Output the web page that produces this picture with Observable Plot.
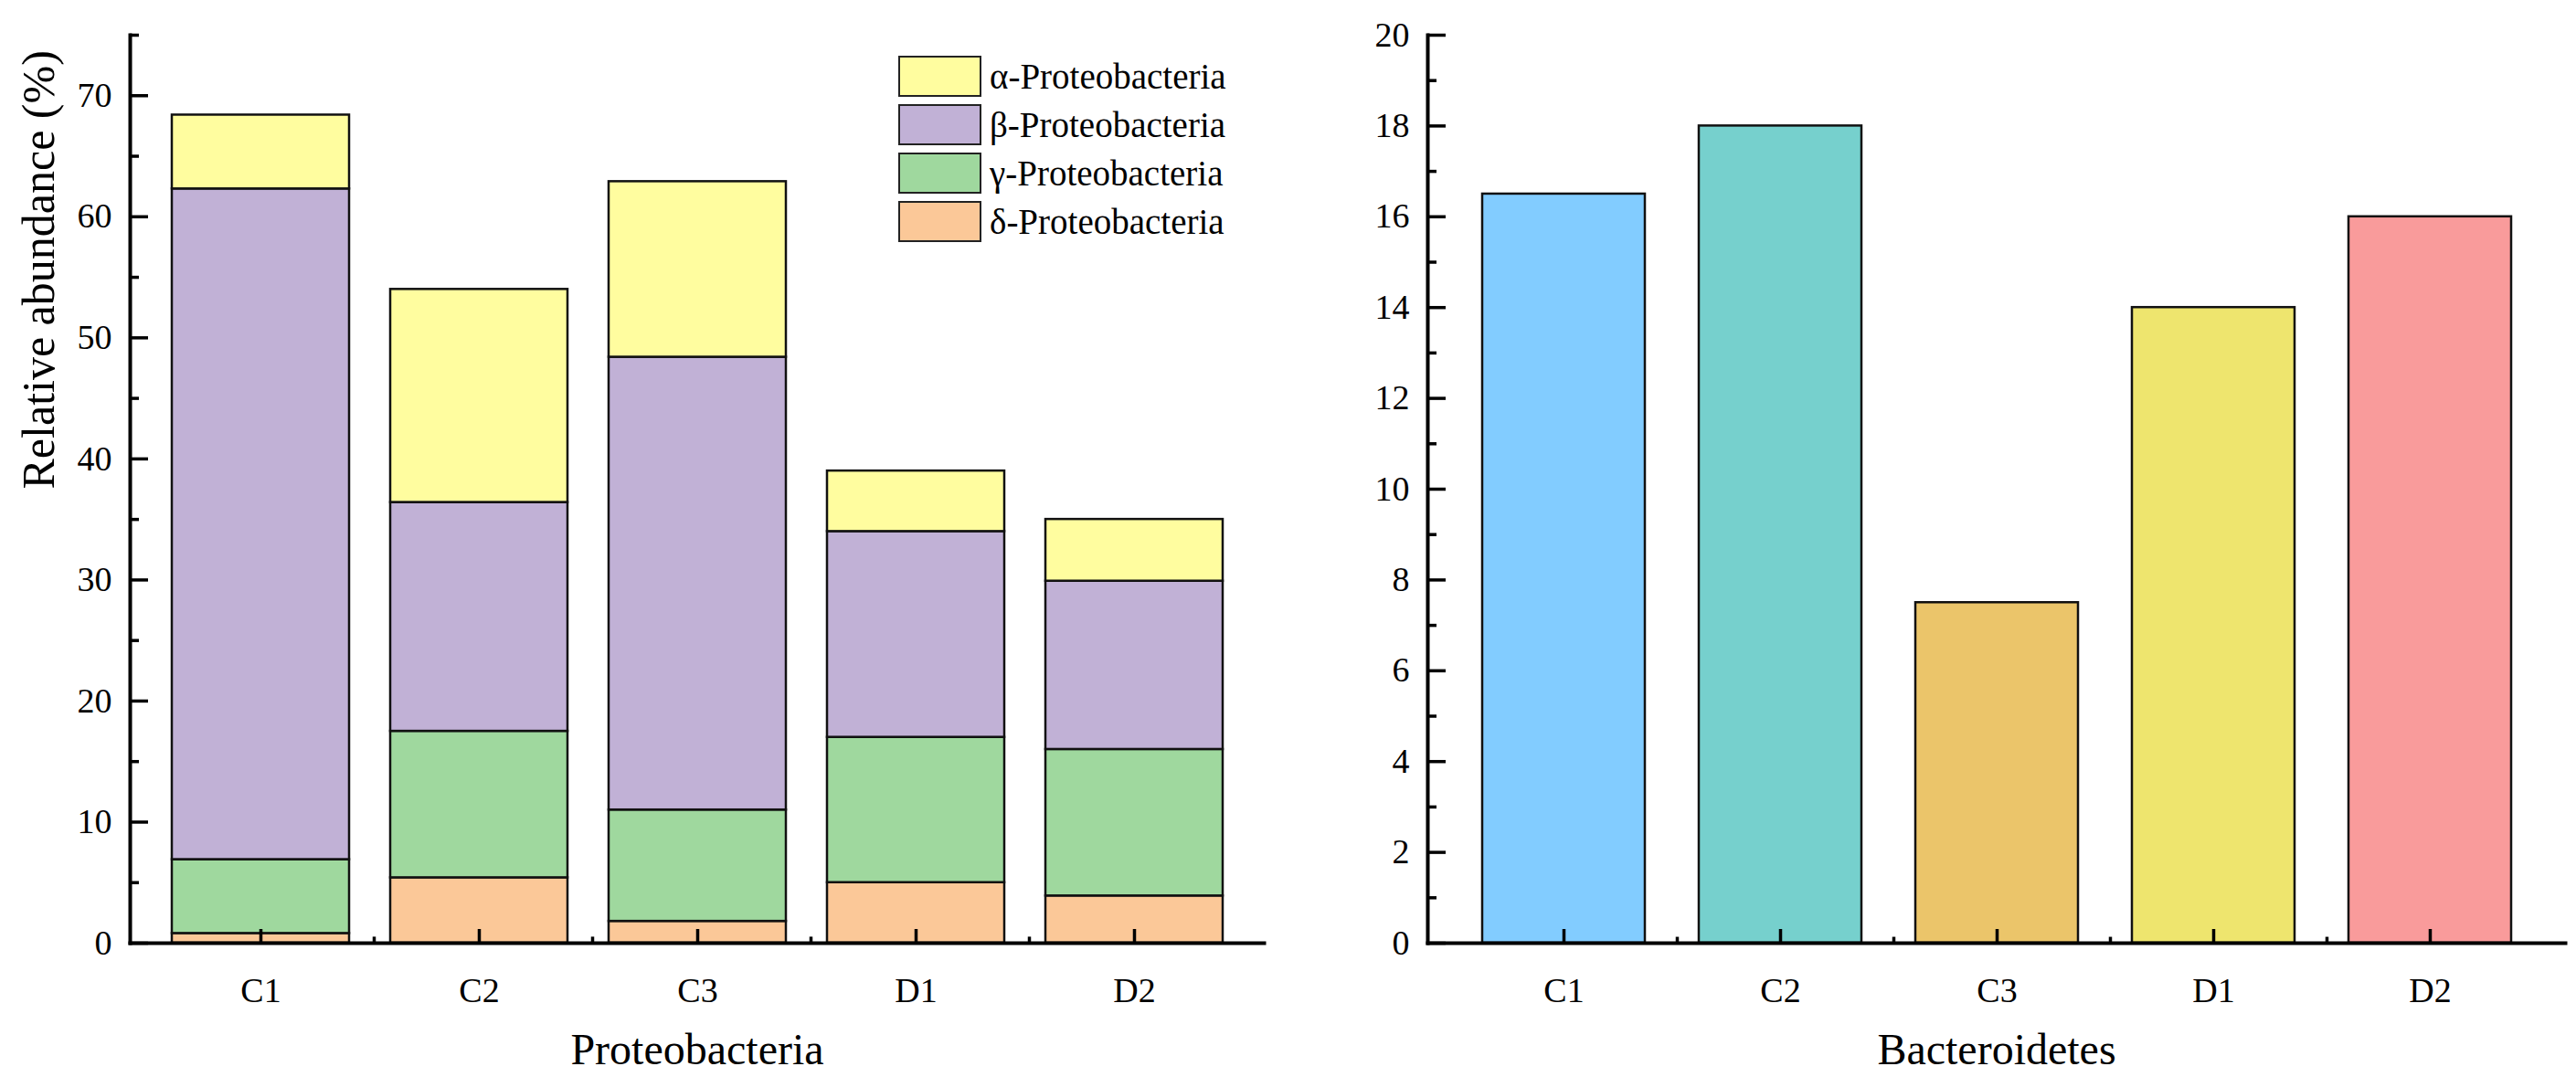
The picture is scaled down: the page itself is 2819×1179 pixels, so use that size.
<!DOCTYPE html>
<html><head><meta charset="utf-8">
<script src="https://cdn.jsdelivr.net/npm/d3@7"></script>
<script src="https://cdn.jsdelivr.net/npm/@observablehq/plot@0.6"></script>
<style>
body{margin:0;background:#fff;font-family:"Liberation Serif","Times New Roman","DejaVu Serif",serif;}
#wrap{position:relative;width:2819px;height:1179px;}
.panel{position:absolute;top:0;}
#legend{position:absolute;left:983px;top:57px;font-size:39px;}
.row{display:flex;align-items:center;height:53px;}
.sw{width:91px;height:45px;border:2px solid #222;box-sizing:border-box;margin-right:9px;}
svg text{font-family:"Liberation Serif","Times New Roman","DejaVu Serif",serif !important;}
</style></head><body>
<div id="wrap"><div id="left" class="panel" style="left:0"></div><div id="right" class="panel" style="left:1410px"></div><div id="legend"></div></div>
<script>
const samples = ["C1","C2","C3","D1","D2"];
const series = ["δ-Proteobacteria","γ-Proteobacteria","β-Proteobacteria","α-Proteobacteria"];
const delta = [0.8, 5.4, 1.8, 5.0, 3.9];
const gamma = [6.1, 12.1, 9.2, 12.0, 12.1];
const beta  = [55.4, 18.9, 37.4, 17.0, 13.9];
const alpha = [6.1, 17.6, 14.5, 5.0, 5.1];
const seriesColors = ["#FBC898","#9FD89E","#C1B1D6","#FFFD9F"];
const bacteroidetes = [16.5, 18.0, 7.5, 14.0, 16.0];
const bactColors = ["#82CCFF","#76D0CD","#EBC56A","#EEE56E","#F99B9B"];

const vals = [delta, gamma, beta, alpha];
const stacked = [];
series.forEach((s,j)=>samples.forEach((c,i)=>stacked.push({sample:c, series:s, value:vals[j][i]})));
const bact = samples.map((c,i)=>({sample:c, value:bacteroidetes[i], color:bactColors[i]}));
const FONT = '"Liberation Serif","Times New Roman","DejaVu Serif",serif';

function axes(yMajor, yMinor, minorLen){
  return [
    Plot.axisY({ticks:yMajor, tickSize:20, dx:20, tickPadding:20, strokeWidth:3.5, fontSize:38, label:null}),
    Plot.axisY({ticks:yMinor, tickSize:10, dx:10, tickFormat:()=>"", strokeWidth:3.5, label:null}),
    Plot.axisX({tickSize:15, dy:-15, tickPadding:38, strokeWidth:3.5, fontSize:38, label:null}),
    Plot.ruleX(samples.slice(0,4), {x:d=>d, y1:0, y2:minorLen, dx:124, strokeWidth:3.5}),
    Plot.frame({anchor:"left", strokeWidth:4}),
    Plot.frame({anchor:"bottom", strokeWidth:4})
  ];
}

const left = Plot.plot({
  width:1400, height:1179, marginLeft:142, marginRight:17, marginTop:38, marginBottom:147,
  style:{fontFamily:FONT, fontSize:"38px", color:"#000", background:"#fff"},
  x:{domain:samples, padding:0.19, label:null},
  y:{domain:[0,75], label:null},
  color:{domain:series, range:seriesColors},
  marks:[
    Plot.barY(stacked, {x:"sample", y:"value", fill:"series", stroke:"#111", strokeWidth:2.5, order:series}),
    ...axes(d3.range(0,71,10), d3.range(5,76,10), 0.5),
    Plot.text(["Relative abundance (%)"], {frameAnchor:"left", rotate:-90, dx:-100, fontSize:50}),
    Plot.text(["Proteobacteria"], {frameAnchor:"bottom", dy:132, fontSize:48})
  ]
});
document.getElementById("left").append(left);

const right = Plot.plot({
  width:1409, height:1179, marginLeft:152, marginRight:12, marginTop:38, marginBottom:147,
  style:{fontFamily:FONT, fontSize:"38px", color:"#000", background:"#fff"},
  x:{domain:samples, padding:0.25, label:null},
  y:{domain:[0,20], label:null},
  marks:[
    Plot.barY(bact, {x:"sample", y:"value", fill:"color", stroke:"#111", strokeWidth:2.5}),
    ...axes(d3.range(0,21,2), d3.range(1,20,2), 0.13),
    Plot.text(["Bacteroidetes"], {frameAnchor:"bottom", dy:132, fontSize:48})
  ]
});
document.getElementById("right").append(right);

const lg = document.getElementById("legend");
[3,2,1,0].forEach(j=>{
  const r=document.createElement("div"); r.className="row";
  const sw=document.createElement("div"); sw.className="sw"; sw.style.background=seriesColors[j];
  const t=document.createElement("span"); t.textContent=series[j];
  r.append(sw,t); lg.append(r);
});
</script></body></html>
